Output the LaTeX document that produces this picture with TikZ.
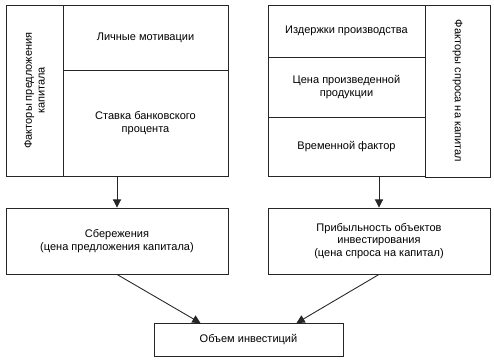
\documentclass[tikz,border=0pt]{standalone}
\usepackage{fontspec}
\setmainfont{Liberation Sans}
\usetikzlibrary{positioning,arrows.meta,calc}

\begin{document}
\begin{tikzpicture}[x=0.03cm,y=-0.03cm,
  box/.style={draw=black!85,line width=0.75pt,align=center,inner sep=2pt,font=\fontsize{9.4}{11}\selectfont},
  arr/.style={-{Triangle[length=7pt,width=7pt]},line width=0.75pt,draw=black!85}]
\def\u{0.03cm}
\useasboundingbox (0,0) rectangle (494,360);
% left block: factors of capital supply (column text reads upwards)
\node[box,rotate=90,minimum width=171*\u,minimum height=57*\u] (supf) at (34.5,90.5) {Факторы предложения\\капитала};
\node[box,minimum width=165*\u,minimum height=65*\u] (motiv) at (145.5,37.5) {Личные мотивации};
\node[box,minimum width=165*\u,minimum height=106*\u] (rate) at (145.5,123) {Ставка банковского\\процента};
% right block: factors of capital demand (column text reads downwards)
\node[box,minimum width=157*\u,minimum height=52*\u] (cost) at (346.5,31) {Издержки производства};
\node[box,minimum width=157*\u,minimum height=60*\u] (price) at (346.5,87) {Цена произведенной\\продукции};
\node[box,minimum width=157*\u,minimum height=59*\u] (time) at (346.5,146.5) {Временной фактор};
\node[box,rotate=-90,minimum width=172*\u,minimum height=65*\u] (demf) at (457.5,91) {Факторы спроса на капитал};
% middle row
\node[box,minimum width=222*\u,minimum height=66*\u] (sav) at (117,241) {Сбережения\\(цена предложения капитала)};
\node[box,minimum width=222*\u,minimum height=66*\u] (prof) at (379,241) {Прибыльность объектов\\инвестирования\\(цена спроса на капитал)};
% result
\node[box,minimum width=189*\u,minimum height=33*\u] (inv) at (248.5,340) {Объем инвестиций};
% connectors
\draw[arr] (sav.north |- rate.south) -- (sav.north);
\draw[arr] (prof.north |- time.south) -- (prof.north);
\draw[arr] (sav.south) -- ([xshift=-48*\u]inv.north);
\draw[arr] (prof.south) -- ([xshift=48*\u]inv.north);
\end{tikzpicture}
\end{document}
